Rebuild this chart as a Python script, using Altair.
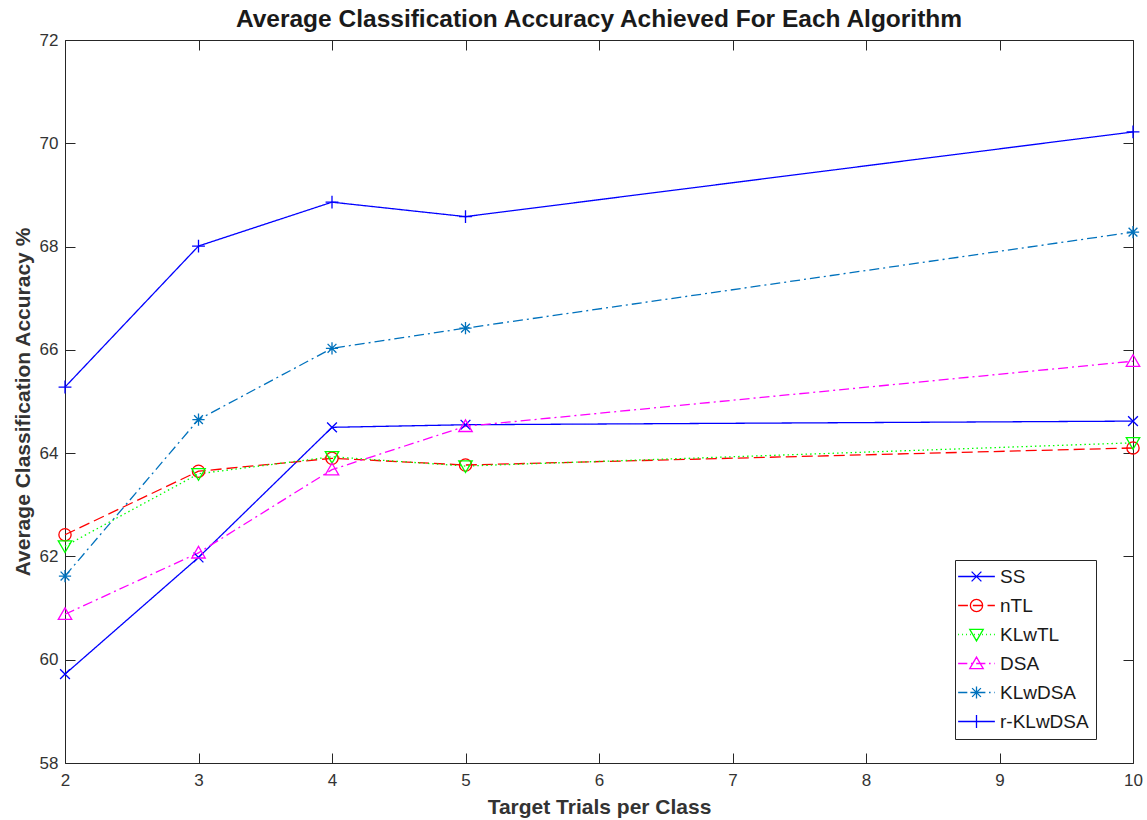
import altair as alt
import pandas as pd

# ---- data ----
trials = [2, 3, 4, 5, 10]
series_names = ["SS", "nTL", "KLwTL", "DSA", "KLwDSA", "r-KLwDSA"]
ss = [59.72, 61.98, 64.50, 64.55, 64.62]
ntl = [62.42, 63.65, 63.90, 63.77, 64.10]
klwtl = [62.20, 63.60, 63.93, 63.75, 64.20]
dsa = [60.88, 62.07, 63.68, 64.52, 65.78]
klwdsa = [61.62, 64.65, 66.03, 66.42, 68.28]
rklwdsa = [65.28, 68.01, 68.86, 68.58, 70.22]

x_ticks = [2, 3, 4, 5, 6, 7, 8, 9, 10]
y_ticks = [58, 60, 62, 64, 66, 68, 70, 72]

values = [ss, ntl, klwtl, dsa, klwdsa, rklwdsa]
rows = []
for name, vals in zip(series_names, values):
    for t, v in zip(trials, vals):
        rows.append({"trials": t, "acc": v, "series": name})
df = pd.DataFrame(rows)

# ---- styles ----
colors = ["#0000FF", "#FF0000", "#00FF00", "#FF00FF", "#0072BD", "#0000FF"]
dashes = [[1, 0], [11, 5], [1.5, 3], [10, 4, 2, 4], [10, 4, 2, 4], [1, 0]]

marker_paths = [
    "M-0.8,-0.8L0.8,0.8M-0.8,0.8L0.8,-0.8",
    "M1,0A1,1,0,1,1,-1,0A1,1,0,1,1,1,0",
    "M-1.1,-0.85L1.1,-0.85L0,1.05Z",
    "M0,-1.05L1.1,0.85L-1.1,0.85Z",
    "M-1,0L1,0M0,-1L0,1M-0.72,-0.72L0.72,0.72M-0.72,0.72L0.72,-0.72",
    "M-1.05,0L1.05,0M0,-1.05L0,1.05",
]

# dash patterns for legend line samples, in symbol units
legend_patterns = [None, [1.6, 0.8], [0.15, 0.5], [1.5, 0.6, 0.25, 0.6], [1.5, 0.6, 0.25, 0.6], None]
L = 3.0


def line_path(pattern):
    if pattern is None:
        return "M%.2f,0L%.2f,0" % (-L, L)
    parts = []
    pos = -L
    i = 0
    while pos < L:
        seg = pattern[i % len(pattern)]
        end = min(pos + seg, L)
        if i % 2 == 0:
            parts.append("M%.2f,0L%.2f,0" % (pos, end))
        pos = end
        i += 1
    return "".join(parts)


legend_paths = [line_path(p) + m for p, m in zip(legend_patterns, marker_paths)]

FONT = "Liberation Sans"
AX = "#262626"

xscale = alt.Scale(domain=[2, 10], nice=False, zero=False)
yscale = alt.Scale(domain=[58, 72], nice=False, zero=False)
color_scale = alt.Scale(domain=series_names, range=colors)
dash_scale = alt.Scale(domain=series_names, range=dashes)
shape_scale = alt.Scale(domain=series_names, range=marker_paths)
legend_shape_scale = alt.Scale(domain=series_names, range=legend_paths)

common_axis = dict(offset=-10, tickSize=10, domain=False, grid=False, tickColor=AX,
                   tickWidth=1, labelFont=FONT, labelFontSize=17, labelColor="#333333",
                   titleFont=FONT, titleFontSize=21, titleFontWeight="bold", titleColor="#333333")

bottom_axis = alt.Axis(orient="bottom", values=x_ticks, format="d", labelPadding=9,
                       labelFlush=False, titlePadding=8, **common_axis)
left_axis = alt.Axis(orient="left", values=y_ticks, format="d", labelPadding=7,
                     titlePadding=6, **common_axis)
top_axis = alt.Axis(orient="top", values=x_ticks, labels=False, title=None, offset=-10,
                    tickSize=10, domain=False, grid=False, tickColor=AX)
right_axis = alt.Axis(orient="right", values=y_ticks, labels=False, title=None, offset=-10,
                      tickSize=10, domain=False, grid=False, tickColor=AX)

legend = alt.Legend(
    title=None, orient="none", legendX=890, legendY=520,
    fillColor="white", strokeColor=AX, padding=7,
    labelFont=FONT, labelFontSize=19, labelColor="#1a1a1a",
    symbolSize=150, symbolStrokeWidth=1.3, symbolOffset=5, labelOffset=14,
    rowPadding=9, symbolFillColor="transparent", symbolOpacity=1,
)

base = alt.Chart(df)

lines = base.mark_line(strokeWidth=1.3).encode(
    x=alt.X("trials:Q", scale=xscale, axis=bottom_axis, title="Target Trials per Class"),
    y=alt.Y("acc:Q", scale=yscale, axis=left_axis, title="Average Classification Accuracy %"),
    color=alt.Color("series:N", scale=color_scale, legend=None),
    strokeDash=alt.StrokeDash("series:N", scale=dash_scale, legend=None),
)

points = base.mark_point(filled=False, size=150, strokeWidth=1.3, opacity=1).encode(
    x=alt.X("trials:Q", scale=xscale, axis=top_axis),
    y=alt.Y("acc:Q", scale=yscale, axis=right_axis),
    color=alt.Color("series:N", scale=color_scale, legend=None),
    shape=alt.Shape("series:N", scale=shape_scale, legend=None),
)

legend_layer = base.mark_point(filled=False, size=0, strokeWidth=1.3).encode(
    x=alt.X("trials:Q", scale=xscale, axis=None),
    y=alt.Y("acc:Q", scale=yscale, axis=None),
    color=alt.Color("series:N", scale=color_scale, legend=legend),
    shape=alt.Shape("series:N", scale=legend_shape_scale, legend=legend),
)

chart = alt.layer(lines, points, legend_layer).resolve_axis(
    x="independent", y="independent"
).resolve_scale(shape="independent", color="independent").properties(
    width=1068, height=723,
    autosize="none",
    padding={"left": 65, "top": 40, "right": 14, "bottom": 57},
    background="white",
    title=alt.TitleParams(
        "Average Classification Accuracy Achieved For Each Algorithm",
        font=FONT, fontSize=24.5, fontWeight="bold", color="#1a1a1a", offset=-1, anchor="middle",
    ),
).configure_view(stroke=AX, strokeWidth=1)

chart.save("out.html", embed_options={"renderer": "svg", "actions": False})
